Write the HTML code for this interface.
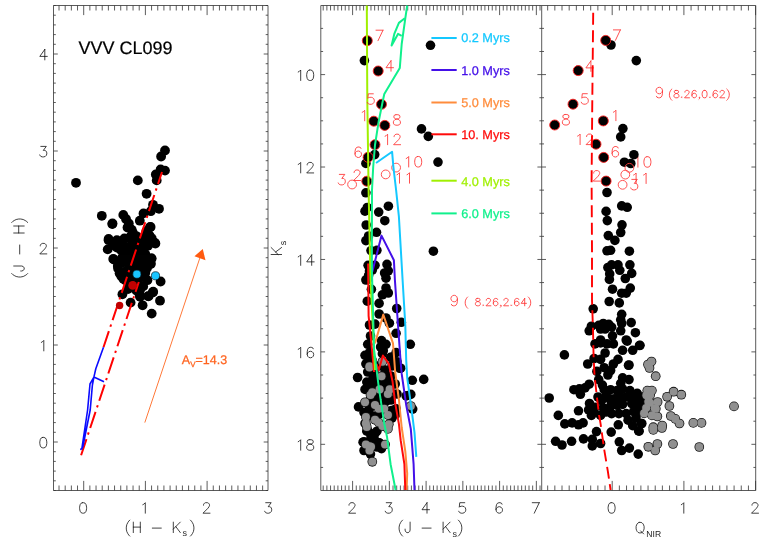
<!DOCTYPE html>
<html><head><meta charset="utf-8"><title>VVV CL099</title>
<style>html,body{margin:0;padding:0;background:#fff}body{width:763px;height:545px;overflow:hidden;font-family:"Liberation Sans",sans-serif}</style></head>
<body>
<svg width="763" height="545" viewBox="0 0 763 545" style="display:block;opacity:0.999;will-change:transform;text-rendering:geometricPrecision;font-family:'Liberation Sans',sans-serif">
<path d="M53.5 5.5H268.0V490.5H53.5ZM320.8 5.5H755.7V490.5H320.8ZM541.7 5.5V490.5" fill="none" stroke="#484848" stroke-width="0.9"/>
<path d="M59.02 5.50v5.00M59.02 490.50v-5.00M65.19 5.50v5.00M65.19 490.50v-5.00M71.36 5.50v5.00M71.36 490.50v-5.00M77.53 5.50v5.00M77.53 490.50v-5.00M83.70 5.50v9.60M83.70 490.50v-9.60M89.87 5.50v5.00M89.87 490.50v-5.00M96.04 5.50v5.00M96.04 490.50v-5.00M102.21 5.50v5.00M102.21 490.50v-5.00M108.38 5.50v5.00M108.38 490.50v-5.00M114.55 5.50v5.00M114.55 490.50v-5.00M120.72 5.50v5.00M120.72 490.50v-5.00M126.89 5.50v5.00M126.89 490.50v-5.00M133.06 5.50v5.00M133.06 490.50v-5.00M139.23 5.50v5.00M139.23 490.50v-5.00M145.40 5.50v9.60M145.40 490.50v-9.60M151.57 5.50v5.00M151.57 490.50v-5.00M157.74 5.50v5.00M157.74 490.50v-5.00M163.91 5.50v5.00M163.91 490.50v-5.00M170.08 5.50v5.00M170.08 490.50v-5.00M176.25 5.50v5.00M176.25 490.50v-5.00M182.42 5.50v5.00M182.42 490.50v-5.00M188.59 5.50v5.00M188.59 490.50v-5.00M194.76 5.50v5.00M194.76 490.50v-5.00M200.93 5.50v5.00M200.93 490.50v-5.00M207.10 5.50v9.60M207.10 490.50v-9.60M213.27 5.50v5.00M213.27 490.50v-5.00M219.44 5.50v5.00M219.44 490.50v-5.00M225.61 5.50v5.00M225.61 490.50v-5.00M231.78 5.50v5.00M231.78 490.50v-5.00M237.95 5.50v5.00M237.95 490.50v-5.00M244.12 5.50v5.00M244.12 490.50v-5.00M250.29 5.50v5.00M250.29 490.50v-5.00M256.46 5.50v5.00M256.46 490.50v-5.00M262.63 5.50v5.00M262.63 490.50v-5.00M53.50 5.50h2.30M268.00 5.50h-2.30M53.50 15.20h2.30M268.00 15.20h-2.30M53.50 24.90h2.30M268.00 24.90h-2.30M53.50 34.60h2.30M268.00 34.60h-2.30M53.50 44.30h2.30M268.00 44.30h-2.30M53.50 54.00h4.30M268.00 54.00h-4.30M53.50 63.70h2.30M268.00 63.70h-2.30M53.50 73.40h2.30M268.00 73.40h-2.30M53.50 83.10h2.30M268.00 83.10h-2.30M53.50 92.80h2.30M268.00 92.80h-2.30M53.50 102.50h2.30M268.00 102.50h-2.30M53.50 112.20h2.30M268.00 112.20h-2.30M53.50 121.90h2.30M268.00 121.90h-2.30M53.50 131.60h2.30M268.00 131.60h-2.30M53.50 141.30h2.30M268.00 141.30h-2.30M53.50 151.00h4.30M268.00 151.00h-4.30M53.50 160.70h2.30M268.00 160.70h-2.30M53.50 170.40h2.30M268.00 170.40h-2.30M53.50 180.10h2.30M268.00 180.10h-2.30M53.50 189.80h2.30M268.00 189.80h-2.30M53.50 199.50h2.30M268.00 199.50h-2.30M53.50 209.20h2.30M268.00 209.20h-2.30M53.50 218.90h2.30M268.00 218.90h-2.30M53.50 228.60h2.30M268.00 228.60h-2.30M53.50 238.30h2.30M268.00 238.30h-2.30M53.50 248.00h4.30M268.00 248.00h-4.30M53.50 257.70h2.30M268.00 257.70h-2.30M53.50 267.40h2.30M268.00 267.40h-2.30M53.50 277.10h2.30M268.00 277.10h-2.30M53.50 286.80h2.30M268.00 286.80h-2.30M53.50 296.50h2.30M268.00 296.50h-2.30M53.50 306.20h2.30M268.00 306.20h-2.30M53.50 315.90h2.30M268.00 315.90h-2.30M53.50 325.60h2.30M268.00 325.60h-2.30M53.50 335.30h2.30M268.00 335.30h-2.30M53.50 345.00h4.30M268.00 345.00h-4.30M53.50 354.70h2.30M268.00 354.70h-2.30M53.50 364.40h2.30M268.00 364.40h-2.30M53.50 374.10h2.30M268.00 374.10h-2.30M53.50 383.80h2.30M268.00 383.80h-2.30M53.50 393.50h2.30M268.00 393.50h-2.30M53.50 403.20h2.30M268.00 403.20h-2.30M53.50 412.90h2.30M268.00 412.90h-2.30M53.50 422.60h2.30M268.00 422.60h-2.30M53.50 432.30h2.30M268.00 432.30h-2.30M53.50 442.00h4.30M268.00 442.00h-4.30M53.50 451.70h2.30M268.00 451.70h-2.30M53.50 461.40h2.30M268.00 461.40h-2.30M53.50 471.10h2.30M268.00 471.10h-2.30M53.50 480.80h2.30M268.00 480.80h-2.30M53.50 490.50h2.30M268.00 490.50h-2.30M323.20 5.50v5.00M323.20 490.50v-5.00M326.88 5.50v5.00M326.88 490.50v-5.00M330.55 5.50v5.00M330.55 490.50v-5.00M334.23 5.50v5.00M334.23 490.50v-5.00M337.90 5.50v5.00M337.90 490.50v-5.00M341.58 5.50v5.00M341.58 490.50v-5.00M345.25 5.50v5.00M345.25 490.50v-5.00M348.93 5.50v5.00M348.93 490.50v-5.00M352.60 5.50v9.60M352.60 490.50v-9.60M356.28 5.50v5.00M356.28 490.50v-5.00M359.95 5.50v5.00M359.95 490.50v-5.00M363.62 5.50v5.00M363.62 490.50v-5.00M367.30 5.50v5.00M367.30 490.50v-5.00M370.98 5.50v5.00M370.98 490.50v-5.00M374.65 5.50v5.00M374.65 490.50v-5.00M378.33 5.50v5.00M378.33 490.50v-5.00M382.00 5.50v5.00M382.00 490.50v-5.00M385.68 5.50v5.00M385.68 490.50v-5.00M389.35 5.50v9.60M389.35 490.50v-9.60M393.03 5.50v5.00M393.03 490.50v-5.00M396.70 5.50v5.00M396.70 490.50v-5.00M400.38 5.50v5.00M400.38 490.50v-5.00M404.05 5.50v5.00M404.05 490.50v-5.00M407.73 5.50v5.00M407.73 490.50v-5.00M411.40 5.50v5.00M411.40 490.50v-5.00M415.08 5.50v5.00M415.08 490.50v-5.00M418.75 5.50v5.00M418.75 490.50v-5.00M422.43 5.50v5.00M422.43 490.50v-5.00M426.10 5.50v9.60M426.10 490.50v-9.60M429.77 5.50v5.00M429.77 490.50v-5.00M433.45 5.50v5.00M433.45 490.50v-5.00M437.12 5.50v5.00M437.12 490.50v-5.00M440.80 5.50v5.00M440.80 490.50v-5.00M444.48 5.50v5.00M444.48 490.50v-5.00M448.15 5.50v5.00M448.15 490.50v-5.00M451.83 5.50v5.00M451.83 490.50v-5.00M455.50 5.50v5.00M455.50 490.50v-5.00M459.18 5.50v5.00M459.18 490.50v-5.00M462.85 5.50v9.60M462.85 490.50v-9.60M466.52 5.50v5.00M466.52 490.50v-5.00M470.20 5.50v5.00M470.20 490.50v-5.00M473.88 5.50v5.00M473.88 490.50v-5.00M477.55 5.50v5.00M477.55 490.50v-5.00M481.23 5.50v5.00M481.23 490.50v-5.00M484.90 5.50v5.00M484.90 490.50v-5.00M488.58 5.50v5.00M488.58 490.50v-5.00M492.25 5.50v5.00M492.25 490.50v-5.00M495.93 5.50v5.00M495.93 490.50v-5.00M499.60 5.50v9.60M499.60 490.50v-9.60M503.27 5.50v5.00M503.27 490.50v-5.00M506.95 5.50v5.00M506.95 490.50v-5.00M510.62 5.50v5.00M510.62 490.50v-5.00M514.30 5.50v5.00M514.30 490.50v-5.00M517.98 5.50v5.00M517.98 490.50v-5.00M521.65 5.50v5.00M521.65 490.50v-5.00M525.33 5.50v5.00M525.33 490.50v-5.00M529.00 5.50v5.00M529.00 490.50v-5.00M532.67 5.50v5.00M532.67 490.50v-5.00M536.35 5.50v9.60M536.35 490.50v-9.60M540.03 5.50v5.00M540.03 490.50v-5.00M320.80 28.38h2.30M541.70 28.38h-2.30M320.80 51.49h2.30M541.70 51.49h-2.30M320.80 74.60h4.30M541.70 74.60h-4.30M320.80 97.71h2.30M541.70 97.71h-2.30M320.80 120.81h2.30M541.70 120.81h-2.30M320.80 143.92h2.30M541.70 143.92h-2.30M320.80 167.03h4.30M541.70 167.03h-4.30M320.80 190.14h2.30M541.70 190.14h-2.30M320.80 213.25h2.30M541.70 213.25h-2.30M320.80 236.35h2.30M541.70 236.35h-2.30M320.80 259.46h4.30M541.70 259.46h-4.30M320.80 282.57h2.30M541.70 282.57h-2.30M320.80 305.68h2.30M541.70 305.68h-2.30M320.80 328.78h2.30M541.70 328.78h-2.30M320.80 351.89h4.30M541.70 351.89h-4.30M320.80 375.00h2.30M541.70 375.00h-2.30M320.80 398.11h2.30M541.70 398.11h-2.30M320.80 421.21h2.30M541.70 421.21h-2.30M320.80 444.32h4.30M541.70 444.32h-4.30M320.80 467.43h2.30M541.70 467.43h-2.30M547.67 5.50v5.00M547.67 490.50v-5.00M554.84 5.50v5.00M554.84 490.50v-5.00M562.01 5.50v5.00M562.01 490.50v-5.00M569.18 5.50v5.00M569.18 490.50v-5.00M576.35 5.50v5.00M576.35 490.50v-5.00M583.52 5.50v5.00M583.52 490.50v-5.00M590.69 5.50v5.00M590.69 490.50v-5.00M597.86 5.50v5.00M597.86 490.50v-5.00M605.03 5.50v5.00M605.03 490.50v-5.00M612.20 5.50v9.60M612.20 490.50v-9.60M619.37 5.50v5.00M619.37 490.50v-5.00M626.54 5.50v5.00M626.54 490.50v-5.00M633.71 5.50v5.00M633.71 490.50v-5.00M640.88 5.50v5.00M640.88 490.50v-5.00M648.05 5.50v5.00M648.05 490.50v-5.00M655.22 5.50v5.00M655.22 490.50v-5.00M662.39 5.50v5.00M662.39 490.50v-5.00M669.56 5.50v5.00M669.56 490.50v-5.00M676.73 5.50v5.00M676.73 490.50v-5.00M683.90 5.50v9.60M683.90 490.50v-9.60M691.07 5.50v5.00M691.07 490.50v-5.00M698.24 5.50v5.00M698.24 490.50v-5.00M705.41 5.50v5.00M705.41 490.50v-5.00M712.58 5.50v5.00M712.58 490.50v-5.00M719.75 5.50v5.00M719.75 490.50v-5.00M726.92 5.50v5.00M726.92 490.50v-5.00M734.09 5.50v5.00M734.09 490.50v-5.00M741.26 5.50v5.00M741.26 490.50v-5.00M748.43 5.50v5.00M748.43 490.50v-5.00M755.60 5.50v9.60M755.60 490.50v-9.60M541.70 28.38h2.30M755.70 28.38h-2.30M541.70 51.49h2.30M755.70 51.49h-2.30M541.70 74.60h4.30M755.70 74.60h-4.30M541.70 97.71h2.30M755.70 97.71h-2.30M541.70 120.81h2.30M755.70 120.81h-2.30M541.70 143.92h2.30M755.70 143.92h-2.30M541.70 167.03h4.30M755.70 167.03h-4.30M541.70 190.14h2.30M755.70 190.14h-2.30M541.70 213.25h2.30M755.70 213.25h-2.30M541.70 236.35h2.30M755.70 236.35h-2.30M541.70 259.46h4.30M755.70 259.46h-4.30M541.70 282.57h2.30M755.70 282.57h-2.30M541.70 305.68h2.30M755.70 305.68h-2.30M541.70 328.78h2.30M755.70 328.78h-2.30M541.70 351.89h4.30M755.70 351.89h-4.30M541.70 375.00h2.30M755.70 375.00h-2.30M541.70 398.11h2.30M755.70 398.11h-2.30M541.70 421.21h2.30M755.70 421.21h-2.30M541.70 444.32h4.30M755.70 444.32h-4.30M541.70 467.43h2.30M755.70 467.43h-2.30" fill="none" stroke="#333" stroke-width="0.8"/>
<path d="M82.60 502.70L81.10 503.20L80.10 504.70L79.60 507.20L79.60 508.70L80.10 511.20L81.10 512.70L82.60 513.20L83.60 513.20L85.10 512.70L86.10 511.20L86.60 508.70L86.60 507.20L86.10 504.70L85.10 503.20L83.60 502.70L82.60 502.70M142.80 504.70L143.80 504.20L145.30 502.70L145.30 513.20M203.50 505.20L203.50 504.70L204.00 503.70L204.50 503.20L205.50 502.70L207.50 502.70L208.50 503.20L209.00 503.70L209.50 504.70L209.50 505.70L209.00 506.70L208.00 508.20L203.00 513.20L210.00 513.20M265.70 502.70L271.20 502.70L268.20 506.70L269.70 506.70L270.70 507.20L271.20 507.70L271.70 509.20L271.70 510.20L271.20 511.70L270.20 512.70L268.70 513.20L267.20 513.20L265.70 512.70L265.20 512.20L264.70 511.20M42.80 437.40L41.30 437.90L40.30 439.40L39.80 441.90L39.80 443.40L40.30 445.90L41.30 447.40L42.80 447.90L43.80 447.90L45.30 447.40L46.30 445.90L46.80 443.40L46.80 441.90L46.30 439.40L45.30 437.90L43.80 437.40L42.80 437.40M41.30 342.40L42.30 341.90L43.80 340.40L43.80 350.90M40.30 245.90L40.30 245.40L40.80 244.40L41.30 243.90L42.30 243.40L44.30 243.40L45.30 243.90L45.80 244.40L46.30 245.40L46.30 246.40L45.80 247.40L44.80 248.90L39.80 253.90L46.80 253.90M40.80 146.40L46.30 146.40L43.30 150.40L44.80 150.40L45.80 150.90L46.30 151.40L46.80 152.90L46.80 153.90L46.30 155.40L45.30 156.40L43.80 156.90L42.30 156.90L40.80 156.40L40.30 155.90L39.80 154.90M44.80 49.40L39.80 56.40L47.30 56.40M44.80 49.40L44.80 59.90M349.00 505.20L349.00 504.70L349.50 503.70L350.00 503.20L351.00 502.70L353.00 502.70L354.00 503.20L354.50 503.70L355.00 504.70L355.00 505.70L354.50 506.70L353.50 508.20L348.50 513.20L355.50 513.20M386.25 502.70L391.75 502.70L388.75 506.70L390.25 506.70L391.25 507.20L391.75 507.70L392.25 509.20L392.25 510.20L391.75 511.70L390.75 512.70L389.25 513.20L387.75 513.20L386.25 512.70L385.75 512.20L385.25 511.20M427.00 502.70L422.00 509.70L429.50 509.70M427.00 502.70L427.00 513.20M464.75 502.70L459.75 502.70L459.25 507.20L459.75 506.70L461.25 506.20L462.75 506.20L464.25 506.70L465.25 507.70L465.75 509.20L465.75 510.20L465.25 511.70L464.25 512.70L462.75 513.20L461.25 513.20L459.75 512.70L459.25 512.20L458.75 511.20M502.00 504.20L501.50 503.20L500.00 502.70L499.00 502.70L497.50 503.20L496.50 504.70L496.00 507.20L496.00 509.70L496.50 511.70L497.50 512.70L499.00 513.20L499.50 513.20L501.00 512.70L502.00 511.70L502.50 510.20L502.50 509.70L502.00 508.20L501.00 507.20L499.50 506.70L499.00 506.70L497.50 507.20L496.50 508.20L496.00 509.70M539.25 502.70L534.25 513.20M532.25 502.70L539.25 502.70M298.20 72.00L299.20 71.50L300.70 70.00L300.70 80.50M309.70 70.00L308.20 70.50L307.20 72.00L306.70 74.50L306.70 76.00L307.20 78.50L308.20 80.00L309.70 80.50L310.70 80.50L312.20 80.00L313.20 78.50L313.70 76.00L313.70 74.50L313.20 72.00L312.20 70.50L310.70 70.00L309.70 70.00M298.20 164.43L299.20 163.93L300.70 162.43L300.70 172.93M307.20 164.93L307.20 164.43L307.70 163.43L308.20 162.93L309.20 162.43L311.20 162.43L312.20 162.93L312.70 163.43L313.20 164.43L313.20 165.43L312.70 166.43L311.70 167.93L306.70 172.93L313.70 172.93M298.20 256.86L299.20 256.36L300.70 254.86L300.70 265.36M311.70 254.86L306.70 261.86L314.20 261.86M311.70 254.86L311.70 265.36M298.20 349.29L299.20 348.79L300.70 347.29L300.70 357.79M313.20 348.79L312.70 347.79L311.20 347.29L310.20 347.29L308.70 347.79L307.70 349.29L307.20 351.79L307.20 354.29L307.70 356.29L308.70 357.29L310.20 357.79L310.70 357.79L312.20 357.29L313.20 356.29L313.70 354.79L313.70 354.29L313.20 352.79L312.20 351.79L310.70 351.29L310.20 351.29L308.70 351.79L307.70 352.79L307.20 354.29M298.20 441.72L299.20 441.22L300.70 439.72L300.70 450.22M309.20 439.72L307.70 440.22L307.20 441.22L307.20 442.22L307.70 443.22L308.70 443.72L310.70 444.22L312.20 444.72L313.20 445.72L313.70 446.72L313.70 448.22L313.20 449.22L312.70 449.72L311.20 450.22L309.20 450.22L307.70 449.72L307.20 449.22L306.70 448.22L306.70 446.72L307.20 445.72L308.20 444.72L309.70 444.22L311.70 443.72L312.70 443.22L313.20 442.22L313.20 441.22L312.70 440.22L311.20 439.72L309.20 439.72M611.10 502.70L609.60 503.20L608.60 504.70L608.10 507.20L608.10 508.70L608.60 511.20L609.60 512.70L611.10 513.20L612.10 513.20L613.60 512.70L614.60 511.20L615.10 508.70L615.10 507.20L614.60 504.70L613.60 503.20L612.10 502.70L611.10 502.70M681.30 504.70L682.30 504.20L683.80 502.70L683.80 513.20M752.00 505.20L752.00 504.70L752.50 503.70L753.00 503.20L754.00 502.70L756.00 502.70L757.00 503.20L757.50 503.70L758.00 504.70L758.00 505.70L757.50 506.70L756.50 508.20L751.50 513.20L758.50 513.20M129.80 520.10L128.80 521.10L127.80 522.60L126.80 524.60L126.30 527.10L126.30 529.10L126.80 531.60L127.80 533.60L128.80 535.10L129.80 536.10M133.30 522.10L133.30 532.60M140.30 522.10L140.30 532.60M133.30 527.10L140.30 527.10M152.30 528.10L161.30 528.10M173.30 522.10L173.30 532.60M180.30 522.10L173.30 529.10M175.80 526.60L180.30 532.60M190.40 520.10L191.40 521.10L192.40 522.60L193.40 524.60L193.90 527.10L193.90 529.10L193.40 531.60L192.40 533.60L191.40 535.10L190.40 536.10M402.60 520.10L401.60 521.10L400.60 522.60L399.60 524.60L399.10 527.10L399.10 529.10L399.60 531.60L400.60 533.60L401.60 535.10L402.60 536.10M410.10 522.10L410.10 530.10L409.60 531.60L409.10 532.10L408.10 532.60L407.10 532.60L406.10 532.10L405.60 531.60L405.10 530.10L405.10 529.10M422.10 528.10L431.10 528.10M443.10 522.10L443.10 532.60M450.10 522.10L443.10 529.10M445.60 526.60L450.10 532.60M458.30 520.10L459.30 521.10L460.30 522.60L461.30 524.60L461.80 527.10L461.80 529.10L461.30 531.60L460.30 533.60L459.30 535.10L458.30 536.10M639.10 522.40L638.10 522.90L637.10 523.90L636.60 524.90L636.10 526.40L636.10 528.90L636.60 530.40L637.10 531.40L638.10 532.40L639.10 532.90L641.10 532.90L642.10 532.40L643.10 531.40L643.60 530.40L644.10 528.90L644.10 526.40L643.60 524.90L643.10 523.90L642.10 522.90L641.10 522.40L639.10 522.40M640.60 530.90L643.60 533.90" fill="none" stroke="#000" stroke-width="0.75" stroke-linecap="round" stroke-linejoin="round"/>
<text x="182.4" y="536.4" fill="#222" font-size="9">s</text>
<text x="452.5" y="536.8" fill="#222" font-size="9">s</text>
<text x="646.3" y="536.7" fill="#222" font-size="8.6">NIR</text>
<path transform="translate(24.2 248) rotate(-90)" d="M-25.50 -12.50L-26.50 -11.50L-27.50 -10.00L-28.50 -8.00L-29.00 -5.50L-29.00 -3.50L-28.50 -1.00L-27.50 1.00L-26.50 2.50L-25.50 3.50M-18.00 -10.50L-18.00 -2.50L-18.50 -1.00L-19.00 -0.50L-20.00 0.00L-21.00 0.00L-22.00 -0.50L-22.50 -1.00L-23.00 -2.50L-23.00 -3.50M-6.00 -4.50L3.00 -4.50M15.00 -10.50L15.00 0.00M22.00 -10.50L22.00 0.00M15.00 -5.50L22.00 -5.50M25.50 -12.50L26.50 -11.50L27.50 -10.00L28.50 -8.00L29.00 -5.50L29.00 -3.50L28.50 -1.00L27.50 1.00L26.50 2.50L25.50 3.50" fill="none" stroke="#000" stroke-width="0.75" stroke-linecap="round" stroke-linejoin="round"/>
<path transform="translate(281.6 249) rotate(-90)" d="M-5.50 -10.50L-5.50 0.00M1.50 -10.50L-5.50 -3.50M-3.00 -6.00L1.50 0.00" fill="none" stroke="#000" stroke-width="0.75" stroke-linecap="round" stroke-linejoin="round"/>
<text transform="translate(286 245.2) rotate(-90)" fill="#222" font-size="9">s</text>
<g fill="#000"><circle cx="76.0" cy="182.8" r="4.9"/><circle cx="165.0" cy="150.5" r="4.9"/><circle cx="161.1" cy="156.5" r="4.9"/><circle cx="160.6" cy="169.4" r="4.9"/><circle cx="165.0" cy="170.6" r="4.9"/><circle cx="155.8" cy="174.5" r="4.9"/><circle cx="156.7" cy="180.4" r="4.9"/><circle cx="137.8" cy="180.4" r="4.9"/><circle cx="146.6" cy="193.8" r="4.9"/><circle cx="153.0" cy="204.8" r="4.9"/><circle cx="159.0" cy="208.8" r="4.9"/><circle cx="150.8" cy="211.2" r="4.9"/><circle cx="143.5" cy="213.4" r="4.9"/><circle cx="101.8" cy="215.8" r="4.9"/><circle cx="112.5" cy="223.5" r="4.9"/><circle cx="123.3" cy="214.9" r="4.9"/><circle cx="126.0" cy="219.0" r="4.9"/><circle cx="128.8" cy="223.5" r="4.9"/><circle cx="139.8" cy="220.7" r="4.9"/><circle cx="149.9" cy="227.2" r="4.9"/><circle cx="108.6" cy="239.0" r="4.9"/><circle cx="112.3" cy="224.0" r="4.9"/><circle cx="108.6" cy="240.2" r="4.9"/><circle cx="107.7" cy="249.4" r="4.9"/><circle cx="113.2" cy="258.9" r="4.9"/><circle cx="116.9" cy="240.2" r="4.9"/><circle cx="116.9" cy="247.5" r="4.9"/><circle cx="117.8" cy="265.9" r="4.9"/><circle cx="119.6" cy="273.2" r="4.9"/><circle cx="123.3" cy="278.7" r="4.9"/><circle cx="122.4" cy="294.3" r="4.9"/><circle cx="130.6" cy="302.6" r="4.9"/><circle cx="142.6" cy="305.3" r="4.9"/><circle cx="151.7" cy="313.6" r="4.9"/><circle cx="160.0" cy="300.7" r="4.9"/><circle cx="152.7" cy="292.5" r="4.9"/><circle cx="148.0" cy="296.1" r="4.9"/><circle cx="139.8" cy="295.2" r="4.9"/><circle cx="160.6" cy="281.5" r="4.9"/><circle cx="146.2" cy="233.8" r="4.9"/><circle cx="151.7" cy="238.3" r="4.9"/><circle cx="155.4" cy="243.5" r="4.9"/><circle cx="148.0" cy="245.7" r="4.9"/><circle cx="145.3" cy="253.9" r="4.9"/><circle cx="151.4" cy="258.5" r="4.9"/><circle cx="150.8" cy="264.0" r="4.9"/><circle cx="144.4" cy="261.3" r="4.9"/><circle cx="128.8" cy="227.3" r="4.9"/><circle cx="127.5" cy="227.5" r="4.9"/><circle cx="131.7" cy="229.6" r="4.9"/><circle cx="150.6" cy="227.0" r="4.9"/><circle cx="146.4" cy="231.2" r="4.9"/><circle cx="149.5" cy="235.4" r="4.9"/><circle cx="154.7" cy="242.7" r="4.9"/><circle cx="146.4" cy="243.8" r="4.9"/><circle cx="117.5" cy="241.7" r="4.9"/><circle cx="117.0" cy="246.9" r="4.9"/><circle cx="113.9" cy="259.5" r="4.9"/><circle cx="124.4" cy="238.5" r="4.9"/><circle cx="130.6" cy="236.4" r="4.9"/><circle cx="136.9" cy="236.4" r="4.9"/><circle cx="142.2" cy="238.5" r="4.9"/><circle cx="126.4" cy="246.9" r="4.9"/><circle cx="133.8" cy="246.9" r="4.9"/><circle cx="141.1" cy="249.0" r="4.9"/><circle cx="126.4" cy="255.3" r="4.9"/><circle cx="134.8" cy="255.3" r="4.9"/><circle cx="144.3" cy="254.3" r="4.9"/><circle cx="151.6" cy="258.5" r="4.9"/><circle cx="122.3" cy="257.4" r="4.9"/><circle cx="118.1" cy="268.6" r="4.9"/><circle cx="121.2" cy="276.0" r="4.9"/><circle cx="125.4" cy="280.2" r="4.9"/><circle cx="136.4" cy="290.6" r="4.9"/><circle cx="143.2" cy="286.4" r="4.9"/><circle cx="147.4" cy="280.2" r="4.9"/><circle cx="145.3" cy="272.8" r="4.9"/><circle cx="150.6" cy="263.4" r="4.9"/><circle cx="141.1" cy="260.2" r="4.9"/><circle cx="142.2" cy="267.6" r="4.9"/><circle cx="126.4" cy="261.3" r="4.9"/><circle cx="133.8" cy="263.4" r="4.9"/><circle cx="126.4" cy="270.7" r="4.9"/><circle cx="129.6" cy="284.4" r="4.9"/><circle cx="133.0" cy="270.0" r="4.9"/><circle cx="138.0" cy="276.0" r="4.9"/><circle cx="131.0" cy="277.0" r="4.9"/><circle cx="138.0" cy="283.0" r="4.9"/><circle cx="133.0" cy="233.0" r="4.9"/><circle cx="132.0" cy="241.0" r="4.9"/><circle cx="139.0" cy="243.0" r="4.9"/><circle cx="121.0" cy="250.0" r="4.9"/><circle cx="121.0" cy="263.0" r="4.9"/><circle cx="130.0" cy="251.0" r="4.9"/><circle cx="137.0" cy="256.0" r="4.9"/><circle cx="140.0" cy="290.0" r="4.9"/><circle cx="153.2" cy="291.7" r="4.9"/><circle cx="148.5" cy="296.4" r="4.9"/><circle cx="140.1" cy="296.9" r="4.9"/><circle cx="120.0" cy="244.0" r="4.9"/><circle cx="113.0" cy="245.0" r="4.9"/><circle cx="129.0" cy="265.0" r="4.9"/><circle cx="137.0" cy="268.0" r="4.9"/><circle cx="147.0" cy="268.0" r="4.9"/><circle cx="129.5" cy="259.0" r="4.9"/><circle cx="143.0" cy="277.0" r="4.9"/><circle cx="134.0" cy="287.0" r="4.9"/><circle cx="128.0" cy="289.0" r="4.9"/></g>
<path d="M103.5 347.3L162 172M81.1 455.2L138.8 282" fill="none" stroke="#ff0000" stroke-width="2" stroke-dasharray="17 4.7 2.3 4.7"/>
<path d="M103.5 347.3L95.8 368.8L93.9 377.1L90.0 384L87.6 410L81.8 449M93.9 377.1L104 381.7M93.9 377.1L92.4 385L90.2 410L83 446L81.8 449M80.2 449.6L82.5 448.6" fill="none" stroke="#0a0aff" stroke-width="1.6" stroke-linejoin="round"/>
<path d="M144.8 422.6L200.5 256" fill="none" stroke="#ff7838" stroke-width="1"/>
<path d="M202.75 248.9L194.5 256.2L205.5 260.3Z" fill="#ff5a10"/>
<circle cx="136.9" cy="274.2" r="4.1" fill="#19c5ff" stroke="#00141c" stroke-width="0.7"/>
<circle cx="155.5" cy="275.8" r="4.1" fill="#19c5ff" stroke="#00141c" stroke-width="0.7"/>
<circle cx="132.7" cy="285.4" r="4.4" fill="#c00000"/>
<circle cx="119.6" cy="305.5" r="3.7" fill="#c00000"/>
<g fill="#000"><circle cx="364.4" cy="60.6" r="4.8"/><circle cx="430.5" cy="45.3" r="4.8"/><circle cx="374.7" cy="154.6" r="4.8"/><circle cx="365.9" cy="163.4" r="4.8"/><circle cx="421.5" cy="128.9" r="4.8"/><circle cx="428.3" cy="136.4" r="4.8"/><circle cx="438.0" cy="162.1" r="4.8"/><circle cx="365.9" cy="192.8" r="4.8"/><circle cx="367.3" cy="207.5" r="4.8"/><circle cx="365.0" cy="211.2" r="4.8"/><circle cx="378.7" cy="212.1" r="4.8"/><circle cx="388.4" cy="206.2" r="4.8"/><circle cx="384.8" cy="220.7" r="4.8"/><circle cx="366.2" cy="225.0" r="4.8"/><circle cx="376.5" cy="232.3" r="4.8"/><circle cx="368.6" cy="236.0" r="4.8"/><circle cx="365.9" cy="240.6" r="4.8"/><circle cx="371.0" cy="250.6" r="4.8"/><circle cx="376.9" cy="250.3" r="4.8"/><circle cx="433.4" cy="251.2" r="4.8"/><circle cx="368.1" cy="265.3" r="4.8"/><circle cx="375.0" cy="265.3" r="4.8"/><circle cx="387.0" cy="264.4" r="4.8"/><circle cx="388.3" cy="270.8" r="4.8"/><circle cx="384.6" cy="273.0" r="4.8"/><circle cx="372.3" cy="270.0" r="4.8"/><circle cx="368.6" cy="275.4" r="4.8"/><circle cx="365.9" cy="280.0" r="4.8"/><circle cx="386.0" cy="278.2" r="4.8"/><circle cx="369.5" cy="271.0" r="4.8"/><circle cx="367.3" cy="279.5" r="4.8"/><circle cx="371.4" cy="289.3" r="4.8"/><circle cx="386.0" cy="288.0" r="4.8"/><circle cx="388.3" cy="293.0" r="4.8"/><circle cx="382.4" cy="294.8" r="4.8"/><circle cx="367.3" cy="301.2" r="4.8"/><circle cx="379.1" cy="303.4" r="4.8"/><circle cx="396.7" cy="308.5" r="4.8"/><circle cx="379.1" cy="314.0" r="4.8"/><circle cx="386.0" cy="318.0" r="4.8"/><circle cx="389.4" cy="323.2" r="4.8"/><circle cx="401.3" cy="322.3" r="4.8"/><circle cx="369.5" cy="325.0" r="4.8"/><circle cx="375.0" cy="324.1" r="4.8"/><circle cx="396.1" cy="333.3" r="4.8"/><circle cx="370.5" cy="336.0" r="4.8"/><circle cx="381.5" cy="340.6" r="4.8"/><circle cx="386.0" cy="344.3" r="4.8"/><circle cx="367.7" cy="344.3" r="4.8"/><circle cx="410.3" cy="344.3" r="4.8"/><circle cx="380.6" cy="347.0" r="4.8"/><circle cx="383.3" cy="350.7" r="4.8"/><circle cx="365.0" cy="355.3" r="4.8"/><circle cx="369.5" cy="352.6" r="4.8"/><circle cx="396.1" cy="352.6" r="4.8"/><circle cx="391.6" cy="357.2" r="4.8"/><circle cx="366.8" cy="363.6" r="4.8"/><circle cx="400.7" cy="368.2" r="4.8"/><circle cx="397.0" cy="361.7" r="4.8"/><circle cx="357.6" cy="377.5" r="4.8"/><circle cx="358.5" cy="406.9" r="4.8"/><circle cx="412.3" cy="380.3" r="4.8"/><circle cx="423.7" cy="379.4" r="4.8"/><circle cx="399.8" cy="368.3" r="4.8"/><circle cx="395.2" cy="384.0" r="4.8"/><circle cx="410.8" cy="394.4" r="4.8"/><circle cx="406.2" cy="395.9" r="4.8"/><circle cx="412.7" cy="409.1" r="4.8"/><circle cx="397.0" cy="394.0" r="4.8"/><circle cx="396.1" cy="408.7" r="4.8"/><circle cx="365.9" cy="363.8" r="4.8"/><circle cx="367.7" cy="372.0" r="4.8"/><circle cx="366.8" cy="382.1" r="4.8"/><circle cx="365.0" cy="389.4" r="4.8"/><circle cx="364.0" cy="412.4" r="4.8"/><circle cx="365.0" cy="423.4" r="4.8"/><circle cx="367.7" cy="430.7" r="4.8"/><circle cx="375.0" cy="433.5" r="4.8"/><circle cx="364.0" cy="441.7" r="4.8"/><circle cx="373.2" cy="440.0" r="4.8"/><circle cx="378.7" cy="442.7" r="4.8"/><circle cx="382.4" cy="353.7" r="4.8"/><circle cx="390.6" cy="357.3" r="4.8"/><circle cx="384.2" cy="383.0" r="4.8"/><circle cx="380.6" cy="405.0" r="4.8"/><circle cx="386.0" cy="401.4" r="4.8"/><circle cx="369.5" cy="408.7" r="4.8"/><circle cx="373.2" cy="416.0" r="4.8"/><circle cx="391.6" cy="410.5" r="4.8"/><circle cx="366.8" cy="431.2" r="4.8"/><circle cx="373.2" cy="434.0" r="4.8"/><circle cx="376.9" cy="431.2" r="4.8"/><circle cx="363.1" cy="442.2" r="4.8"/><circle cx="364.0" cy="450.5" r="4.8"/><circle cx="370.5" cy="454.1" r="4.8"/><circle cx="381.5" cy="448.6" r="4.8"/><circle cx="375.0" cy="440.4" r="4.8"/><circle cx="379.6" cy="443.1" r="4.8"/><circle cx="396.1" cy="413.8" r="4.8"/><circle cx="372.0" cy="360.0" r="4.8"/><circle cx="378.0" cy="366.0" r="4.8"/><circle cx="385.0" cy="370.0" r="4.8"/><circle cx="391.0" cy="376.0" r="4.8"/><circle cx="373.0" cy="378.0" r="4.8"/><circle cx="379.0" cy="384.0" r="4.8"/><circle cx="372.0" cy="386.0" r="4.8"/><circle cx="390.0" cy="383.0" r="4.8"/><circle cx="377.0" cy="397.0" r="4.8"/><circle cx="383.0" cy="395.0" r="4.8"/><circle cx="391.0" cy="400.0" r="4.8"/><circle cx="370.0" cy="400.0" r="4.8"/><circle cx="385.0" cy="412.0" r="4.8"/><circle cx="379.0" cy="414.0" r="4.8"/><circle cx="392.0" cy="418.0" r="4.8"/><circle cx="371.0" cy="437.0" r="4.8"/><circle cx="377.0" cy="447.0" r="4.8"/><circle cx="368.0" cy="447.0" r="4.8"/><circle cx="388.0" cy="389.0" r="4.8"/><circle cx="374.0" cy="371.0" r="4.8"/><circle cx="392.0" cy="366.0" r="4.8"/><circle cx="386.0" cy="377.0" r="4.8"/></g>
<g fill="#000" stroke="#ff2020" stroke-width="0.9"><circle cx="367.3" cy="40.7" r="5.0"/><circle cx="378.2" cy="71.0" r="5.0"/><circle cx="381.5" cy="104.3" r="5.0"/><circle cx="373.8" cy="121.2" r="5.0"/><circle cx="384.8" cy="125.4" r="5.0"/><circle cx="375.0" cy="144.7" r="5.0"/><circle cx="368.1" cy="157.3" r="5.0"/><circle cx="366.8" cy="181.2" r="5.0"/></g>
<g fill="#111"><circle cx="369.5" cy="366.3" r="4.85"/><circle cx="382.4" cy="361.7" r="4.85"/><circle cx="369.5" cy="367.4" r="4.85"/><circle cx="381.5" cy="376.2" r="4.85"/><circle cx="389.7" cy="389.4" r="4.85"/><circle cx="379.6" cy="389.4" r="4.85"/><circle cx="372.3" cy="392.2" r="4.85"/><circle cx="370.5" cy="395.0" r="4.85"/><circle cx="387.9" cy="394.0" r="4.85"/><circle cx="365.0" cy="402.3" r="4.85"/><circle cx="375.0" cy="405.0" r="4.85"/><circle cx="378.7" cy="408.7" r="4.85"/><circle cx="384.2" cy="408.7" r="4.85"/><circle cx="410.8" cy="406.0" r="4.85"/><circle cx="365.9" cy="417.0" r="4.85"/><circle cx="375.0" cy="419.7" r="4.85"/><circle cx="387.9" cy="415.1" r="4.85"/><circle cx="365.9" cy="423.4" r="4.85"/><circle cx="366.8" cy="427.0" r="4.85"/><circle cx="378.7" cy="422.5" r="4.85"/><circle cx="382.4" cy="426.1" r="4.85"/><circle cx="388.8" cy="424.3" r="4.85"/><circle cx="387.9" cy="428.9" r="4.85"/><circle cx="365.9" cy="444.5" r="4.85"/><circle cx="369.5" cy="446.3" r="4.85"/><circle cx="385.1" cy="444.5" r="4.85"/><circle cx="372.3" cy="461.8" r="4.85"/><circle cx="369.5" cy="450.5" r="4.85"/><circle cx="371.0" cy="446.8" r="4.85"/></g>
<g fill="#909090"><circle cx="369.5" cy="366.3" r="4.05"/><circle cx="382.4" cy="361.7" r="4.05"/><circle cx="369.5" cy="367.4" r="4.05"/><circle cx="381.5" cy="376.2" r="4.05"/><circle cx="389.7" cy="389.4" r="4.05"/><circle cx="379.6" cy="389.4" r="4.05"/><circle cx="372.3" cy="392.2" r="4.05"/><circle cx="370.5" cy="395.0" r="4.05"/><circle cx="387.9" cy="394.0" r="4.05"/><circle cx="365.0" cy="402.3" r="4.05"/><circle cx="375.0" cy="405.0" r="4.05"/><circle cx="378.7" cy="408.7" r="4.05"/><circle cx="384.2" cy="408.7" r="4.05"/><circle cx="410.8" cy="406.0" r="4.05"/><circle cx="365.9" cy="417.0" r="4.05"/><circle cx="375.0" cy="419.7" r="4.05"/><circle cx="387.9" cy="415.1" r="4.05"/><circle cx="365.9" cy="423.4" r="4.05"/><circle cx="366.8" cy="427.0" r="4.05"/><circle cx="378.7" cy="422.5" r="4.05"/><circle cx="382.4" cy="426.1" r="4.05"/><circle cx="388.8" cy="424.3" r="4.05"/><circle cx="387.9" cy="428.9" r="4.05"/><circle cx="365.9" cy="444.5" r="4.05"/><circle cx="369.5" cy="446.3" r="4.05"/><circle cx="385.1" cy="444.5" r="4.05"/><circle cx="372.3" cy="461.8" r="4.05"/><circle cx="369.5" cy="450.5" r="4.05"/><circle cx="371.0" cy="446.8" r="4.05"/></g>
<g fill="none" stroke="#ff4040" stroke-width="0.9"><circle cx="396.1" cy="167.6" r="4.4"/><circle cx="385.7" cy="174.4" r="4.4"/><circle cx="352.1" cy="184.5" r="4.4"/></g>
<path d="M376.0 163.0L392.1 151.8L393.4 167.0L396.1 190.0L398.9 216.7L402.6 280.0L405.3 325.0L406.2 360.0L407.2 377.5L411.7 410.5L414.5 432.6L416.3 456.9" fill="none" stroke="#14c8ff" stroke-width="2" stroke-linejoin="round"/>
<path d="M372.3 271.7L381.5 235.6L393.9 260.2L394.9 280.0L398.0 325.0L400.5 360.0L401.7 373.9L406.2 405.0L410.8 428.9L413.6 464.2L414.5 490.0" fill="none" stroke="#4410e8" stroke-width="2" stroke-linejoin="round"/>
<path d="M375.0 343.4L383.3 314.6L393.0 343.4L395.2 372.0L398.9 399.5L401.7 427.5L405.3 451.4L407.2 473.4L406.6 490.0" fill="none" stroke="#ff8c3c" stroke-width="2" stroke-linejoin="round"/>
<path d="M368.1 263.5L368.6 315.9L371.4 343.4L374.1 372.0" fill="none" stroke="#ff0a0a" stroke-width="2" stroke-linejoin="round"/>
<path d="M376.6 364.0L378.7 370.2L382.9 355.5L388.8 363.8L392.5 381.2L395.2 403.2L398.9 423.9L400.7 440.4L404.4 464.2L405.3 490.0" fill="none" stroke="#ff0a0a" stroke-width="2" stroke-linejoin="round"/>
<path d="M366.8 5.5L367.3 100.0L368.6 190.0L370.5 280.0L373.0 330.0L375.0 370.0" fill="none" stroke="#a0f000" stroke-width="2" stroke-linejoin="round"/>
<path d="M407.2 5.5L405.3 18.3L401.7 44.0L399.8 67.9L384.3 94.0L383.0 100.0L378.7 121.2L375.0 145.0L373.2 167.0L372.0 190.0L371.9 235.0L371.9 270.0L374.1 350.0L378.7 386.7L384.2 423.4L387.0 436.7L390.6 464.2L395.6 490.0" fill="none" stroke="#10f08c" stroke-width="2" stroke-linejoin="round"/>
<path d="M404.8 18.3L398.9 22.9L394.3 33.9L391.6 45.5L398.0 33.9L401.7 35.8" fill="none" stroke="#10f08c" stroke-width="2" stroke-linejoin="round"/>
<path d="M431.4 38.0H456.7" stroke="#14c8ff" stroke-width="2"/>
<path d="M431.4 70.0H456.7" stroke="#4410e8" stroke-width="2"/>
<path d="M431.4 102.5H456.7" stroke="#ff8c3c" stroke-width="2"/>
<path d="M431.4 134.3H456.7" stroke="#ff0a0a" stroke-width="2"/>
<path d="M431.4 180.7H456.7" stroke="#a0f000" stroke-width="2"/>
<path d="M431.4 213.4H456.7" stroke="#10f08c" stroke-width="2"/>
<text x="461.2" y="42.4" fill="#14c8ff" stroke="#14c8ff" stroke-width="0.25" font-size="12.7">0.2 Myrs</text>
<text x="461.2" y="74.6" fill="#4410e8" stroke="#4410e8" stroke-width="0.25" font-size="12.7">1.0 Myrs</text>
<text x="461.2" y="107.1" fill="#ff8c3c" stroke="#ff8c3c" stroke-width="0.25" font-size="12.7">5.0 Myrs</text>
<text x="461.2" y="139.3" fill="#ff0a0a" stroke="#ff0a0a" stroke-width="0.25" font-size="12.7">10. Myrs</text>
<text x="461.2" y="185.6" fill="#a0f000" stroke="#a0f000" stroke-width="0.25" font-size="12.7">4.0 Myrs</text>
<text x="461.2" y="218.3" fill="#10f08c" stroke="#10f08c" stroke-width="0.25" font-size="12.7">6.0 Myrs</text>
<path d="M383.00 30.20L378.00 40.70M376.00 30.20L383.00 30.20M391.00 60.70L386.00 67.70L393.50 67.70M391.00 60.70L391.00 71.20M373.30 93.80L368.30 93.80L367.80 98.30L368.30 97.80L369.80 97.30L371.30 97.30L372.80 97.80L373.80 98.80L374.30 100.30L374.30 101.30L373.80 102.80L372.80 103.80L371.30 104.30L369.80 104.30L368.30 103.80L367.80 103.30L367.30 102.30M362.20 112.30L363.20 111.80L364.70 110.30L364.70 120.80M395.90 114.70L394.40 115.20L393.90 116.20L393.90 117.20L394.40 118.20L395.40 118.70L397.40 119.20L398.90 119.70L399.90 120.70L400.40 121.70L400.40 123.20L399.90 124.20L399.40 124.70L397.90 125.20L395.90 125.20L394.40 124.70L393.90 124.20L393.40 123.20L393.40 121.70L393.90 120.70L394.90 119.70L396.40 119.20L398.40 118.70L399.40 118.20L399.90 117.20L399.90 116.20L399.40 115.20L397.90 114.70L395.90 114.70M385.10 136.20L386.10 135.70L387.60 134.20L387.60 144.70M394.10 136.70L394.10 136.20L394.60 135.20L395.10 134.70L396.10 134.20L398.10 134.20L399.10 134.70L399.60 135.20L400.10 136.20L400.10 137.20L399.60 138.20L398.60 139.70L393.60 144.70L400.60 144.70M361.00 148.50L360.50 147.50L359.00 147.00L358.00 147.00L356.50 147.50L355.50 149.00L355.00 151.50L355.00 154.00L355.50 156.00L356.50 157.00L358.00 157.50L358.50 157.50L360.00 157.00L361.00 156.00L361.50 154.50L361.50 154.00L361.00 152.50L360.00 151.50L358.50 151.00L358.00 151.00L356.50 151.50L355.50 152.50L355.00 154.00M406.20 158.50L407.20 158.00L408.70 156.50L408.70 167.00M417.70 156.50L416.20 157.00L415.20 158.50L414.70 161.00L414.70 162.50L415.20 165.00L416.20 166.50L417.70 167.00L418.70 167.00L420.20 166.50L421.20 165.00L421.70 162.50L421.70 161.00L421.20 158.50L420.20 157.00L418.70 156.50L417.70 156.50M397.00 174.70L398.00 174.20L399.50 172.70L399.50 183.20M407.00 174.70L408.00 174.20L409.50 172.70L409.50 183.20M354.10 172.50L354.10 172.00L354.60 171.00L355.10 170.50L356.10 170.00L358.10 170.00L359.10 170.50L359.60 171.00L360.10 172.00L360.10 173.00L359.60 174.00L358.60 175.50L353.60 180.50L360.60 180.50M339.30 174.40L344.80 174.40L341.80 178.40L343.30 178.40L344.30 178.90L344.80 179.40L345.30 180.90L345.30 181.90L344.80 183.40L343.80 184.40L342.30 184.90L340.80 184.90L339.30 184.40L338.80 183.90L338.30 182.90M457.40 298.80L456.90 300.30L455.90 301.30L454.40 301.80L453.90 301.80L452.40 301.30L451.40 300.30L450.90 298.80L450.90 298.30L451.40 296.80L452.40 295.80L453.90 295.30L454.40 295.30L455.90 295.80L456.90 296.80L457.40 298.80L457.40 301.30L456.90 303.80L455.90 305.30L454.40 305.80L453.40 305.80L451.90 305.30L451.40 304.30M467.67 297.00L466.97 297.70L466.26 298.76L465.56 300.17L465.21 301.93L465.21 303.34L465.56 305.10L466.26 306.50L466.97 307.56L467.67 308.26M477.18 298.41L476.12 298.76L475.77 299.46L475.77 300.17L476.12 300.87L476.82 301.22L478.23 301.58L479.29 301.93L479.99 302.63L480.34 303.34L480.34 304.39L479.99 305.10L479.64 305.45L478.58 305.80L477.18 305.80L476.12 305.45L475.77 305.10L475.42 304.39L475.42 303.34L475.77 302.63L476.47 301.93L477.53 301.58L478.94 301.22L479.64 300.87L479.99 300.17L479.99 299.46L479.64 298.76L478.58 298.41L477.18 298.41M483.16 305.10L482.81 305.45L483.16 305.80L483.51 305.45L483.16 305.10M486.33 300.17L486.33 299.82L486.68 299.11L487.03 298.76L487.74 298.41L489.14 298.41L489.85 298.76L490.20 299.11L490.55 299.82L490.55 300.52L490.20 301.22L489.50 302.28L485.98 305.80L490.90 305.80M497.59 299.46L497.24 298.76L496.18 298.41L495.48 298.41L494.42 298.76L493.72 299.82L493.37 301.58L493.37 303.34L493.72 304.74L494.42 305.45L495.48 305.80L495.83 305.80L496.89 305.45L497.59 304.74L497.94 303.69L497.94 303.34L497.59 302.28L496.89 301.58L495.83 301.22L495.48 301.22L494.42 301.58L493.72 302.28L493.37 303.34M501.11 305.45L500.76 305.80L500.41 305.45L500.76 305.10L501.11 305.45L501.11 306.15L500.76 306.86L500.41 307.21M503.93 300.17L503.93 299.82L504.28 299.11L504.63 298.76L505.34 298.41L506.74 298.41L507.45 298.76L507.80 299.11L508.15 299.82L508.15 300.52L507.80 301.22L507.10 302.28L503.58 305.80L508.50 305.80M511.32 305.10L510.97 305.45L511.32 305.80L511.67 305.45L511.32 305.10M518.71 299.46L518.36 298.76L517.30 298.41L516.60 298.41L515.54 298.76L514.84 299.82L514.49 301.58L514.49 303.34L514.84 304.74L515.54 305.45L516.60 305.80L516.95 305.80L518.01 305.45L518.71 304.74L519.06 303.69L519.06 303.34L518.71 302.28L518.01 301.58L516.95 301.22L516.60 301.22L515.54 301.58L514.84 302.28L514.49 303.34M524.70 298.41L521.18 303.34L526.46 303.34M524.70 298.41L524.70 305.80M528.22 297.00L528.92 297.70L529.62 298.76L530.33 300.17L530.68 301.93L530.68 303.34L530.33 305.10L529.62 306.50L528.92 307.56L528.22 308.26M620.40 29.90L615.40 40.40M613.40 29.90L620.40 29.90M590.90 60.90L585.90 67.90L593.40 67.90M590.90 60.90L590.90 71.40M587.30 93.70L582.30 93.70L581.80 98.20L582.30 97.70L583.80 97.20L585.30 97.20L586.80 97.70L587.80 98.70L588.30 100.20L588.30 101.20L587.80 102.70L586.80 103.70L585.30 104.20L583.80 104.20L582.30 103.70L581.80 103.20L581.30 102.20M564.90 114.50L563.40 115.00L562.90 116.00L562.90 117.00L563.40 118.00L564.40 118.50L566.40 119.00L567.90 119.50L568.90 120.50L569.40 121.50L569.40 123.00L568.90 124.00L568.40 124.50L566.90 125.00L564.90 125.00L563.40 124.50L562.90 124.00L562.40 123.00L562.40 121.50L562.90 120.50L563.90 119.50L565.40 119.00L567.40 118.50L568.40 118.00L568.90 117.00L568.90 116.00L568.40 115.00L566.90 114.50L564.90 114.50M613.40 112.20L614.40 111.70L615.90 110.20L615.90 120.70M577.60 136.10L578.60 135.60L580.10 134.10L580.10 144.60M586.60 136.60L586.60 136.10L587.10 135.10L587.60 134.60L588.60 134.10L590.60 134.10L591.60 134.60L592.10 135.10L592.60 136.10L592.60 137.10L592.10 138.10L591.10 139.60L586.10 144.60L593.10 144.60M618.10 148.00L617.60 147.00L616.10 146.50L615.10 146.50L613.60 147.00L612.60 148.50L612.10 151.00L612.10 153.50L612.60 155.50L613.60 156.50L615.10 157.00L615.60 157.00L617.10 156.50L618.10 155.50L618.60 154.00L618.60 153.50L618.10 152.00L617.10 151.00L615.60 150.50L615.10 150.50L613.60 151.00L612.60 152.00L612.10 153.50M635.40 158.70L636.40 158.20L637.90 156.70L637.90 167.20M646.90 156.70L645.40 157.20L644.40 158.70L643.90 161.20L643.90 162.70L644.40 165.20L645.40 166.70L646.90 167.20L647.90 167.20L649.40 166.70L650.40 165.20L650.90 162.70L650.90 161.20L650.40 158.70L649.40 157.20L647.90 156.70L646.90 156.70M593.70 173.10L593.70 172.60L594.20 171.60L594.70 171.10L595.70 170.60L597.70 170.60L598.70 171.10L599.20 171.60L599.70 172.60L599.70 173.60L599.20 174.60L598.20 176.10L593.20 181.10L600.20 181.10M633.60 175.00L634.60 174.50L636.10 173.00L636.10 183.50M643.60 175.00L644.60 174.50L646.10 173.00L646.10 183.50M631.80 179.40L637.30 179.40L634.30 183.40L635.80 183.40L636.80 183.90L637.30 184.40L637.80 185.90L637.80 186.90L637.30 188.40L636.30 189.40L634.80 189.90L633.30 189.90L631.80 189.40L631.30 188.90L630.80 187.90M662.50 90.80L662.00 92.30L661.00 93.30L659.50 93.80L659.00 93.80L657.50 93.30L656.50 92.30L656.00 90.80L656.00 90.30L656.50 88.80L657.50 87.80L659.00 87.30L659.50 87.30L661.00 87.80L662.00 88.80L662.50 90.80L662.50 93.30L662.00 95.80L661.00 97.30L659.50 97.80L658.50 97.80L657.00 97.30L656.50 96.30M671.87 89.00L671.17 89.70L670.46 90.76L669.76 92.17L669.41 93.93L669.41 95.34L669.76 97.10L670.46 98.50L671.17 99.56L671.87 100.26M675.74 90.41L674.69 90.76L674.34 91.46L674.34 92.17L674.69 92.87L675.39 93.22L676.80 93.58L677.86 93.93L678.56 94.63L678.91 95.34L678.91 96.39L678.56 97.10L678.21 97.45L677.15 97.80L675.74 97.80L674.69 97.45L674.34 97.10L673.98 96.39L673.98 95.34L674.34 94.63L675.04 93.93L676.10 93.58L677.50 93.22L678.21 92.87L678.56 92.17L678.56 91.46L678.21 90.76L677.15 90.41L675.74 90.41M681.73 97.10L681.38 97.45L681.73 97.80L682.08 97.45L681.73 97.10M684.90 92.17L684.90 91.82L685.25 91.11L685.60 90.76L686.30 90.41L687.71 90.41L688.42 90.76L688.77 91.11L689.12 91.82L689.12 92.52L688.77 93.22L688.06 94.28L684.54 97.80L689.47 97.80M696.16 91.46L695.81 90.76L694.75 90.41L694.05 90.41L692.99 90.76L692.29 91.82L691.94 93.58L691.94 95.34L692.29 96.74L692.99 97.45L694.05 97.80L694.40 97.80L695.46 97.45L696.16 96.74L696.51 95.69L696.51 95.34L696.16 94.28L695.46 93.58L694.40 93.22L694.05 93.22L692.99 93.58L692.29 94.28L691.94 95.34M699.68 97.45L699.33 97.80L698.98 97.45L699.33 97.10L699.68 97.45L699.68 98.15L699.33 98.86L698.98 99.21M704.26 90.41L703.20 90.76L702.50 91.82L702.14 93.58L702.14 94.63L702.50 96.39L703.20 97.45L704.26 97.80L704.96 97.80L706.02 97.45L706.72 96.39L707.07 94.63L707.07 93.58L706.72 91.82L706.02 90.76L704.96 90.41L704.26 90.41M709.89 97.10L709.54 97.45L709.89 97.80L710.24 97.45L709.89 97.10M717.28 91.46L716.93 90.76L715.87 90.41L715.17 90.41L714.11 90.76L713.41 91.82L713.06 93.58L713.06 95.34L713.41 96.74L714.11 97.45L715.17 97.80L715.52 97.80L716.58 97.45L717.28 96.74L717.63 95.69L717.63 95.34L717.28 94.28L716.58 93.58L715.52 93.22L715.17 93.22L714.11 93.58L713.41 94.28L713.06 95.34M720.10 92.17L720.10 91.82L720.45 91.11L720.80 90.76L721.50 90.41L722.91 90.41L723.62 90.76L723.97 91.11L724.32 91.82L724.32 92.52L723.97 93.22L723.26 94.28L719.74 97.80L724.67 97.80M726.78 89.00L727.49 89.70L728.19 90.76L728.90 92.17L729.25 93.93L729.25 95.34L728.90 97.10L728.19 98.50L727.49 99.56L726.78 100.26" fill="none" stroke="#ff3030" stroke-width="0.85" stroke-linecap="round" stroke-linejoin="round"/>
<g fill="#000"><circle cx="611.0" cy="45.0" r="4.8"/><circle cx="636.3" cy="60.6" r="4.8"/><circle cx="622.9" cy="128.6" r="4.8"/><circle cx="620.7" cy="136.9" r="4.8"/><circle cx="633.9" cy="154.7" r="4.8"/><circle cx="624.4" cy="162.2" r="4.8"/><circle cx="630.8" cy="163.5" r="4.8"/><circle cx="607.0" cy="192.5" r="4.8"/><circle cx="621.7" cy="205.9" r="4.8"/><circle cx="627.2" cy="207.3" r="4.8"/><circle cx="606.1" cy="211.4" r="4.8"/><circle cx="607.3" cy="220.6" r="4.8"/><circle cx="622.0" cy="224.8" r="4.8"/><circle cx="620.7" cy="232.5" r="4.8"/><circle cx="608.3" cy="235.6" r="4.8"/><circle cx="614.9" cy="240.4" r="4.8"/><circle cx="607.0" cy="250.8" r="4.8"/><circle cx="610.6" cy="250.3" r="4.8"/><circle cx="629.4" cy="251.2" r="4.8"/><circle cx="607.9" cy="267.5" r="4.8"/><circle cx="611.6" cy="264.8" r="4.8"/><circle cx="618.0" cy="264.8" r="4.8"/><circle cx="629.9" cy="264.8" r="4.8"/><circle cx="619.8" cy="270.3" r="4.8"/><circle cx="631.7" cy="273.4" r="4.8"/><circle cx="609.7" cy="273.9" r="4.8"/><circle cx="609.4" cy="279.4" r="4.8"/><circle cx="625.3" cy="278.5" r="4.8"/><circle cx="612.5" cy="289.2" r="4.8"/><circle cx="630.3" cy="288.1" r="4.8"/><circle cx="626.2" cy="293.2" r="4.8"/><circle cx="621.7" cy="293.2" r="4.8"/><circle cx="609.2" cy="301.5" r="4.8"/><circle cx="619.3" cy="302.9" r="4.8"/><circle cx="593.2" cy="308.8" r="4.8"/><circle cx="621.7" cy="314.3" r="4.8"/><circle cx="620.7" cy="319.8" r="4.8"/><circle cx="631.2" cy="322.6" r="4.8"/><circle cx="621.7" cy="323.5" r="4.8"/><circle cx="591.4" cy="326.2" r="4.8"/><circle cx="589.2" cy="330.8" r="4.8"/><circle cx="598.7" cy="325.3" r="4.8"/><circle cx="603.3" cy="323.5" r="4.8"/><circle cx="608.8" cy="324.4" r="4.8"/><circle cx="611.6" cy="327.2" r="4.8"/><circle cx="600.6" cy="329.0" r="4.8"/><circle cx="605.1" cy="329.0" r="4.8"/><circle cx="620.7" cy="330.8" r="4.8"/><circle cx="635.4" cy="332.7" r="4.8"/><circle cx="612.5" cy="335.8" r="4.8"/><circle cx="600.6" cy="340.0" r="4.8"/><circle cx="626.2" cy="340.0" r="4.8"/><circle cx="564.4" cy="354.9" r="4.8"/><circle cx="549.2" cy="398.0" r="4.8"/><circle cx="558.3" cy="415.4" r="4.8"/><circle cx="578.5" cy="410.8" r="4.8"/><circle cx="573.9" cy="389.7" r="4.8"/><circle cx="579.4" cy="388.8" r="4.8"/><circle cx="580.4" cy="394.3" r="4.8"/><circle cx="585.0" cy="387.9" r="4.8"/><circle cx="589.2" cy="384.2" r="4.8"/><circle cx="587.7" cy="364.0" r="4.8"/><circle cx="594.1" cy="358.5" r="4.8"/><circle cx="627.2" cy="341.1" r="4.8"/><circle cx="640.0" cy="345.3" r="4.8"/><circle cx="595.0" cy="343.9" r="4.8"/><circle cx="600.6" cy="342.9" r="4.8"/><circle cx="607.0" cy="343.9" r="4.8"/><circle cx="613.4" cy="343.9" r="4.8"/><circle cx="622.6" cy="350.3" r="4.8"/><circle cx="632.7" cy="350.3" r="4.8"/><circle cx="605.1" cy="353.0" r="4.8"/><circle cx="629.0" cy="365.0" r="4.8"/><circle cx="618.0" cy="359.4" r="4.8"/><circle cx="600.6" cy="359.4" r="4.8"/><circle cx="613.4" cy="364.0" r="4.8"/><circle cx="604.2" cy="367.7" r="4.8"/><circle cx="610.6" cy="370.5" r="4.8"/><circle cx="596.9" cy="371.4" r="4.8"/><circle cx="607.9" cy="375.0" r="4.8"/><circle cx="622.6" cy="377.8" r="4.8"/><circle cx="629.0" cy="379.6" r="4.8"/><circle cx="598.7" cy="379.6" r="4.8"/><circle cx="620.7" cy="383.3" r="4.8"/><circle cx="602.4" cy="385.1" r="4.8"/><circle cx="604.2" cy="389.7" r="4.8"/><circle cx="610.6" cy="389.7" r="4.8"/><circle cx="617.1" cy="390.6" r="4.8"/><circle cx="622.6" cy="388.8" r="4.8"/><circle cx="629.9" cy="390.6" r="4.8"/><circle cx="637.2" cy="393.4" r="4.8"/><circle cx="589.5" cy="403.5" r="4.8"/><circle cx="601.5" cy="400.7" r="4.8"/><circle cx="609.7" cy="398.9" r="4.8"/><circle cx="614.3" cy="398.9" r="4.8"/><circle cx="620.7" cy="397.0" r="4.8"/><circle cx="626.2" cy="397.0" r="4.8"/><circle cx="632.7" cy="397.0" r="4.8"/><circle cx="639.1" cy="398.9" r="4.8"/><circle cx="588.6" cy="409.9" r="4.8"/><circle cx="595.0" cy="407.2" r="4.8"/><circle cx="603.3" cy="408.0" r="4.8"/><circle cx="610.6" cy="406.2" r="4.8"/><circle cx="617.1" cy="405.3" r="4.8"/><circle cx="622.6" cy="404.4" r="4.8"/><circle cx="631.7" cy="403.5" r="4.8"/><circle cx="637.2" cy="404.4" r="4.8"/><circle cx="591.4" cy="415.4" r="4.8"/><circle cx="600.6" cy="415.4" r="4.8"/><circle cx="611.6" cy="413.6" r="4.8"/><circle cx="618.9" cy="413.6" r="4.8"/><circle cx="626.2" cy="413.6" r="4.8"/><circle cx="633.6" cy="411.7" r="4.8"/><circle cx="639.1" cy="411.7" r="4.8"/><circle cx="564.8" cy="423.9" r="4.8"/><circle cx="572.1" cy="422.9" r="4.8"/><circle cx="578.5" cy="424.8" r="4.8"/><circle cx="583.1" cy="422.9" r="4.8"/><circle cx="555.6" cy="441.3" r="4.8"/><circle cx="562.0" cy="445.0" r="4.8"/><circle cx="571.6" cy="441.3" r="4.8"/><circle cx="583.5" cy="438.9" r="4.8"/><circle cx="592.3" cy="439.4" r="4.8"/><circle cx="592.3" cy="445.9" r="4.8"/><circle cx="600.6" cy="443.5" r="4.8"/><circle cx="596.5" cy="431.6" r="4.8"/><circle cx="611.2" cy="432.1" r="4.8"/><circle cx="618.3" cy="424.8" r="4.8"/><circle cx="619.3" cy="441.8" r="4.8"/><circle cx="621.7" cy="450.5" r="4.8"/><circle cx="629.4" cy="448.1" r="4.8"/><circle cx="638.2" cy="454.1" r="4.8"/><circle cx="639.1" cy="431.2" r="4.8"/><circle cx="641.8" cy="423.5" r="4.8"/><circle cx="632.7" cy="425.7" r="4.8"/><circle cx="628.1" cy="420.2" r="4.8"/><circle cx="628.5" cy="365.3" r="4.8"/><circle cx="639.5" cy="345.5" r="4.8"/><circle cx="641.3" cy="423.5" r="4.8"/><circle cx="638.6" cy="430.8" r="4.8"/><circle cx="606.0" cy="396.0" r="4.8"/><circle cx="598.0" cy="397.0" r="4.8"/><circle cx="594.0" cy="412.0" r="4.8"/><circle cx="606.0" cy="412.0" r="4.8"/><circle cx="642.0" cy="405.0" r="4.8"/><circle cx="643.0" cy="397.0" r="4.8"/><circle cx="636.0" cy="418.0" r="4.8"/></g>
<g fill="#000" stroke="#ff2020" stroke-width="0.9"><circle cx="605.7" cy="40.4" r="5.0"/><circle cx="578.2" cy="70.6" r="5.0"/><circle cx="573.0" cy="104.2" r="5.0"/><circle cx="554.7" cy="125.0" r="5.0"/><circle cx="603.3" cy="120.9" r="5.0"/><circle cx="596.0" cy="144.2" r="5.0"/><circle cx="603.7" cy="157.4" r="5.0"/><circle cx="606.1" cy="181.1" r="5.0"/></g>
<g fill="#111"><circle cx="651.5" cy="361.5" r="4.85"/><circle cx="648.0" cy="364.5" r="4.85"/><circle cx="649.5" cy="368.0" r="4.85"/><circle cx="655.7" cy="376.2" r="4.85"/><circle cx="647.3" cy="390.6" r="4.85"/><circle cx="651.9" cy="390.6" r="4.85"/><circle cx="650.1" cy="395.2" r="4.85"/><circle cx="646.4" cy="395.2" r="4.85"/><circle cx="673.6" cy="391.7" r="4.85"/><circle cx="667.1" cy="396.8" r="4.85"/><circle cx="681.3" cy="394.7" r="4.85"/><circle cx="648.3" cy="401.7" r="4.85"/><circle cx="657.6" cy="402.0" r="4.85"/><circle cx="646.2" cy="408.0" r="4.85"/><circle cx="655.8" cy="408.7" r="4.85"/><circle cx="669.4" cy="406.0" r="4.85"/><circle cx="651.9" cy="415.4" r="4.85"/><circle cx="657.4" cy="416.5" r="4.85"/><circle cx="670.8" cy="416.0" r="4.85"/><circle cx="644.1" cy="413.4" r="4.85"/><circle cx="675.3" cy="418.9" r="4.85"/><circle cx="679.5" cy="423.5" r="4.85"/><circle cx="693.3" cy="422.9" r="4.85"/><circle cx="701.5" cy="422.9" r="4.85"/><circle cx="653.3" cy="427.2" r="4.85"/><circle cx="662.2" cy="425.5" r="4.85"/><circle cx="653.3" cy="429.9" r="4.85"/><circle cx="661.9" cy="428.0" r="4.85"/><circle cx="734.0" cy="406.4" r="4.85"/><circle cx="648.3" cy="446.8" r="4.85"/><circle cx="657.4" cy="444.0" r="4.85"/><circle cx="655.2" cy="450.5" r="4.85"/><circle cx="673.0" cy="444.0" r="4.85"/><circle cx="654.7" cy="408.3" r="4.85"/><circle cx="650.1" cy="402.8" r="4.85"/><circle cx="699.3" cy="447.0" r="4.85"/></g>
<g fill="#909090"><circle cx="651.5" cy="361.5" r="4.05"/><circle cx="648.0" cy="364.5" r="4.05"/><circle cx="649.5" cy="368.0" r="4.05"/><circle cx="655.7" cy="376.2" r="4.05"/><circle cx="647.3" cy="390.6" r="4.05"/><circle cx="651.9" cy="390.6" r="4.05"/><circle cx="650.1" cy="395.2" r="4.05"/><circle cx="646.4" cy="395.2" r="4.05"/><circle cx="673.6" cy="391.7" r="4.05"/><circle cx="667.1" cy="396.8" r="4.05"/><circle cx="681.3" cy="394.7" r="4.05"/><circle cx="648.3" cy="401.7" r="4.05"/><circle cx="657.6" cy="402.0" r="4.05"/><circle cx="646.2" cy="408.0" r="4.05"/><circle cx="655.8" cy="408.7" r="4.05"/><circle cx="669.4" cy="406.0" r="4.05"/><circle cx="651.9" cy="415.4" r="4.05"/><circle cx="657.4" cy="416.5" r="4.05"/><circle cx="670.8" cy="416.0" r="4.05"/><circle cx="644.1" cy="413.4" r="4.05"/><circle cx="675.3" cy="418.9" r="4.05"/><circle cx="679.5" cy="423.5" r="4.05"/><circle cx="693.3" cy="422.9" r="4.05"/><circle cx="701.5" cy="422.9" r="4.05"/><circle cx="653.3" cy="427.2" r="4.05"/><circle cx="662.2" cy="425.5" r="4.05"/><circle cx="653.3" cy="429.9" r="4.05"/><circle cx="661.9" cy="428.0" r="4.05"/><circle cx="734.0" cy="406.4" r="4.05"/><circle cx="648.3" cy="446.8" r="4.05"/><circle cx="657.4" cy="444.0" r="4.05"/><circle cx="655.2" cy="450.5" r="4.05"/><circle cx="673.0" cy="444.0" r="4.05"/><circle cx="654.7" cy="408.3" r="4.05"/><circle cx="650.1" cy="402.8" r="4.05"/><circle cx="699.3" cy="447.0" r="4.05"/></g>
<g fill="none" stroke="#ff4040" stroke-width="0.9"><circle cx="629.4" cy="167.8" r="4.4"/><circle cx="625.3" cy="174.6" r="4.4"/><circle cx="622.6" cy="184.8" r="4.4"/></g>
<path d="M593.2 12.8L592.3 100L591.6 180L592 250L592 300L593 330L593.6 356.7L594.5 375L596.5 393.4L599.1 415.4L600.6 423.9L604.2 449.5L607.9 471.6L610.6 490" fill="none" stroke="#ff0000" stroke-width="1.9" stroke-dasharray="12 5.5"/>
<text x="78.5" y="53.8" fill="#000" stroke="#000" stroke-width="0.2" font-size="18">VVV CL099</text>
<text x="181.8" y="364.3" fill="#ff6420" stroke="#ff6420" stroke-width="0.25" font-size="12.5">A<tspan font-size="8" dy="2.5">V</tspan><tspan dy="-2.5">=14.3</tspan></text>
</svg>
</body></html>
